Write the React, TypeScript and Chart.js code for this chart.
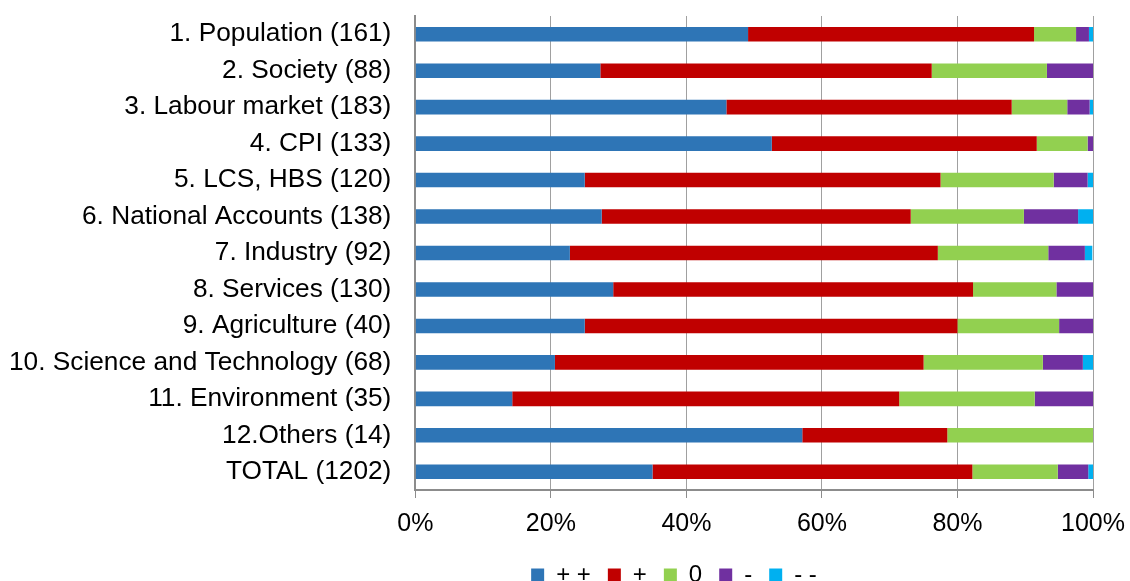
import React, { useEffect, useRef } from 'react';
import { Chart, registerables } from 'chart.js';

Chart.register(...registerables);

const categories = [
  '1. Population (161)',
  '2. Society (88)',
  '3. Labour market (183)',
  '4. CPI (133)',
  '5. LCS, HBS (120)',
  '6. National Accounts (138)',
  '7. Industry (92)',
  '8. Services (130)',
  '9. Agriculture (40)',
  '10. Science and Technology (68)',
  '11. Environment (35)',
  '12.Others (14)',
  'TOTAL (1202)',
];

const seriesNames = ['+ +', '+', '0', '-', '- -'];
const seriesColors = ['#2E75B6', '#C00000', '#92D050', '#7030A0', '#00B0F0'];

// shares in percent
const doublePlus = [49.1, 27.3, 45.9, 52.6, 25.0, 27.5, 22.8, 29.2, 25.0, 20.6, 14.3, 57.1, 35.0];
const singlePlus = [42.2, 48.9, 42.1, 39.1, 52.5, 45.6, 54.3, 53.1, 55.0, 54.4, 57.1, 21.4, 47.2];
const neutral = [6.2, 17.0, 8.2, 7.5, 16.7, 16.7, 16.3, 12.3, 15.0, 17.6, 20.0, 21.5, 12.6];
const singleMinus = [1.9, 6.8, 3.3, 0.8, 5.0, 8.0, 5.4, 5.4, 5.0, 5.9, 8.6, 0, 4.5];
const doubleMinus = [0.6, 0, 0.5, 0, 0.8, 2.2, 1.1, 0, 0, 1.5, 0, 0, 0.7];

const xTickStep = 20;
const xMin = 0;
const xMax = 100;

const FONT = "'Liberation Sans', Arial, sans-serif";
const Y_PAD = 24;
const LEGEND_SHIFT_X = 123;
const LEGEND_SHIFT_Y = -4;

const legendShift = {
  id: 'legendShift',
  afterLayout(chart: any) {
    const lg = chart.legend;
    if (lg) {
      lg.left += LEGEND_SHIFT_X;
      lg.right += LEGEND_SHIFT_X;
      lg.top += LEGEND_SHIFT_Y;
      lg.bottom += LEGEND_SHIFT_Y;
    }
  },
};

export default function App() {
  const ref = useRef<HTMLCanvasElement>(null);

  useEffect(() => {
    document.body.style.margin = '0';
    const values = [doublePlus, singlePlus, neutral, singleMinus, doubleMinus];
    const chart = new Chart(ref.current as HTMLCanvasElement, {
      type: 'bar',
      data: {
        labels: categories,
        datasets: seriesNames.map((name, i) => ({
          label: name,
          data: values[i],
          backgroundColor: seriesColors[i],
          borderWidth: 0,
          barPercentage: 0.4,
          categoryPercentage: 1,
        })),
      },
      plugins: [legendShift],
      options: {
        indexAxis: 'y',
        responsive: false,
        animation: false,
        devicePixelRatio: 1,
        layout: { padding: { left: 9, right: 37, top: 16, bottom: 0 } },
        scales: {
          x: {
            stacked: true,
            min: xMin,
            max: xMax,
            ticks: {
              stepSize: xTickStep,
              callback: (v: any) => v + '%',
              color: '#000',
              font: { size: 25, family: FONT },
              padding: 11,
            },
            grid: { color: '#a0a0a0', tickLength: 8, tickColor: '#8c8c8c', lineWidth: 1 },
            border: { color: '#8c8c8c', width: 2 },
            afterFit: (s: any) => {
              s.paddingLeft = 0;
              s.paddingRight = 0;
            },
          },
          y: {
            stacked: true,
            grid: { display: false, drawTicks: false },
            border: { color: '#8c8c8c', width: 2 },
            ticks: {
              color: '#000',
              font: { size: 26.25, family: FONT },
              padding: Y_PAD,
              autoSkip: false,
            },
            afterFit: (s: any) => {
              s.width = s.width - Y_PAD;
              s.paddingTop = 0;
              s.paddingBottom = 0;
            },
          },
        },
        plugins: {
          legend: {
            position: 'bottom',
            labels: {
              boxWidth: 13,
              boxHeight: 13,
              color: '#000',
              font: { size: 24, family: FONT },
              padding: 17,
            },
          },
          tooltip: { enabled: false },
        },
      },
    });
    return () => chart.destroy();
  }, []);

  return (
    <div style={{ position: 'absolute', left: 0, top: 0, width: 1130, height: 581, overflow: 'hidden', background: '#fff' }}>
      <canvas ref={ref} width={1130} height={601} style={{ display: 'block' }} />
    </div>
  );
}
